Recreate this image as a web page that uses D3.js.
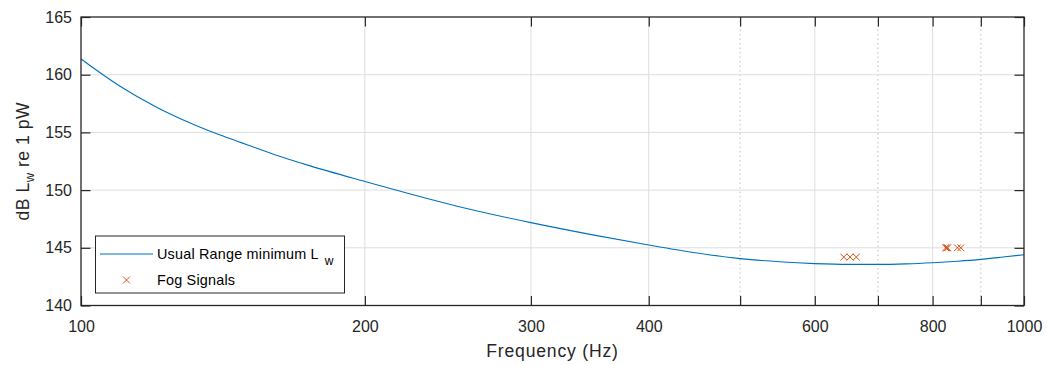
<!DOCTYPE html>
<html>
<head>
<meta charset="utf-8">
<script src="https://cdn.jsdelivr.net/npm/d3@7"></script>
<style>
  body { margin: 0; background: #fff; }
  svg { font-family: Arial, "Liberation Sans", Helvetica, sans-serif; }
  .tick text { fill: #262626; font-size: 16px; }
  .tick line { stroke: #262626; stroke-width: 1.2; }
</style>
</head>
<body>
<svg class="chart"></svg>
<script>
// usual range minimum Lw
const freq = [100, 110, 120, 130, 140, 150, 160, 175, 200, 225, 250, 300, 350, 400, 450, 500, 550, 600, 650, 700, 750, 800, 850, 900, 950, 1000]
const minLw = [161.36, 159.0, 157.23, 155.88, 154.81, 153.93, 153.11, 152.1, 150.75, 149.6, 148.63, 147.18, 146.1, 145.24, 144.55, 144.06, 143.79, 143.63, 143.56, 143.56, 143.61, 143.71, 143.84, 144.0, 144.2, 144.4]

// fog signals
const fogFreq = [644, 654, 664, 826, 828, 830, 850, 857]
const fogLw = [144.2, 144.2, 144.2, 145, 145, 145, 145, 145]

const xTicks = [100, 200, 300, 400, 500, 600, 700, 800, 900, 1000]
const xLabels = [100, 200, 300, 400, 600, 800, 1000]
const yTicks = [140, 145, 150, 155, 160, 165]
const legendLabels = ['Usual Range minimum L', 'Fog Signals']

const W = 1047
const H = 365
const margin = { top: 17, right: 23, bottom: 59.5, left: 81 }
const tickLen = 9.5

const x = d3.scaleLog().domain([100, 1000]).range([margin.left, W - margin.right])
const y = d3.scaleLinear().domain([140, 165]).range([H - margin.bottom, margin.top])

const chart = d3.select('.chart').attr('width', W).attr('height', H)

// grid: solid at labelled ticks, dotted at the others
const grid = chart.append('g').attr('class', 'grid')
grid.selectAll('line.gx')
  .data(xTicks.slice(1, -1))
  .enter()
  .append('line')
  .attr('x1', d => x(d)).attr('x2', d => x(d))
  .attr('y1', y(140)).attr('y2', y(165))
  .attr('stroke-width', 1)
  .attr('stroke-dasharray', d => (xLabels.includes(d) ? null : '1.5,3'))
  .attr('stroke', d => (xLabels.includes(d) ? '#dedede' : '#bdbdbd'))
grid.selectAll('line.gy')
  .data(yTicks.slice(1, -1))
  .enter()
  .append('line')
  .attr('x1', x(100)).attr('x2', x(1000))
  .attr('y1', d => y(d)).attr('y2', d => y(d))
  .attr('stroke', '#dedede')
  .attr('stroke-width', 1)

// curve
const line = d3.line()
  .x((d, i) => x(freq[i]))
  .y(d => y(d))
  .curve(d3.curveMonotoneX)
chart.append('path')
  .datum(minLw)
  .attr('fill', 'none')
  .attr('stroke', '#0072BD')
  .attr('stroke-width', 1.1)
  .attr('d', line)

// fog signal markers
const cross = (cx, cy, s) => `M${cx - s},${cy - s}L${cx + s},${cy + s}M${cx - s},${cy + s}L${cx + s},${cy - s}`
chart.append('g')
  .selectAll('path')
  .data(fogFreq)
  .enter()
  .append('path')
  .attr('d', (d, i) => cross(x(d), y(fogLw[i]), 3.4))
  .attr('stroke', '#D95319')
  .attr('stroke-width', 1)
  .attr('fill', 'none')

// axes
const fmtX = d => (xLabels.includes(d) ? d : '')
chart.append('g')
  .attr('transform', `translate(0,${y(140)})`)
  .call(d3.axisBottom(x).tickValues(xTicks).tickFormat(fmtX).tickSize(-tickLen).tickSizeOuter(0).tickPadding(15))
chart.append('g')
  .attr('transform', `translate(0,${y(165)})`)
  .call(d3.axisTop(x).tickValues(xTicks).tickFormat('').tickSize(-tickLen).tickSizeOuter(0))
chart.append('g')
  .attr('transform', `translate(${x(100)},0)`)
  .call(d3.axisLeft(y).tickValues(yTicks).tickFormat(d3.format('d')).tickSize(-tickLen).tickSizeOuter(0).tickPadding(9))
chart.append('g')
  .attr('transform', `translate(${x(1000)},0)`)
  .call(d3.axisRight(y).tickValues(yTicks).tickFormat('').tickSize(-tickLen).tickSizeOuter(0))
chart.selectAll('.domain').remove()

chart.append('rect')
  .attr('x', x(100)).attr('y', y(165))
  .attr('width', x(1000) - x(100))
  .attr('height', y(140) - y(165))
  .attr('fill', 'none')
  .attr('stroke', '#262626')
  .attr('stroke-width', 1.3)

// axis labels
chart.append('text')
  .attr('x', (x(100) + x(1000)) / 2)
  .attr('y', 357)
  .attr('text-anchor', 'middle')
  .attr('fill', '#262626')
  .style('font-size', '17.6px')
  .style('letter-spacing', '0.8px')
  .text('Frequency (Hz)')

const yLabel = chart.append('text')
  .attr('transform', `translate(29,${(y(140) + y(165)) / 2}) rotate(-90)`)
  .attr('text-anchor', 'middle')
  .attr('fill', '#262626')
  .style('font-size', '17.6px')
  .style('letter-spacing', '0.5px')
yLabel.append('tspan').text('dB L')
yLabel.append('tspan').attr('dy', 5).style('font-size', '13px').text('w')
yLabel.append('tspan').attr('dy', -5).text(' re 1 pW')

// legend
const legend = chart.append('g').attr('class', 'legend')
legend.append('rect')
  .attr('x', 95.5).attr('y', 236)
  .attr('width', 249).attr('height', 57)
  .attr('fill', '#fff')
  .attr('stroke', '#262626')
  .attr('stroke-width', 1)
legend.append('line')
  .attr('x1', 100).attr('x2', 153)
  .attr('y1', 254).attr('y2', 254)
  .attr('stroke', '#0072BD')
  .attr('stroke-width', 1.1)
legend.append('path')
  .attr('d', cross(126.5, 280, 3.4))
  .attr('stroke', '#D95319')
  .attr('stroke-width', 1)
const l1 = legend.append('text')
  .attr('x', 157).attr('y', 259)
  .attr('fill', '#000')
  .style('font-size', '14.4px')
  .style('letter-spacing', '0.2px')
l1.append('tspan').text(legendLabels[0])
l1.append('tspan').attr('dx', 6).attr('dy', 6).style('font-size', '12px').text('w')
legend.append('text')
  .attr('x', 157).attr('y', 285)
  .attr('fill', '#000')
  .style('font-size', '14.4px')
  .style('letter-spacing', '0.2px')
  .text(legendLabels[1])
</script>
</body>
</html>
